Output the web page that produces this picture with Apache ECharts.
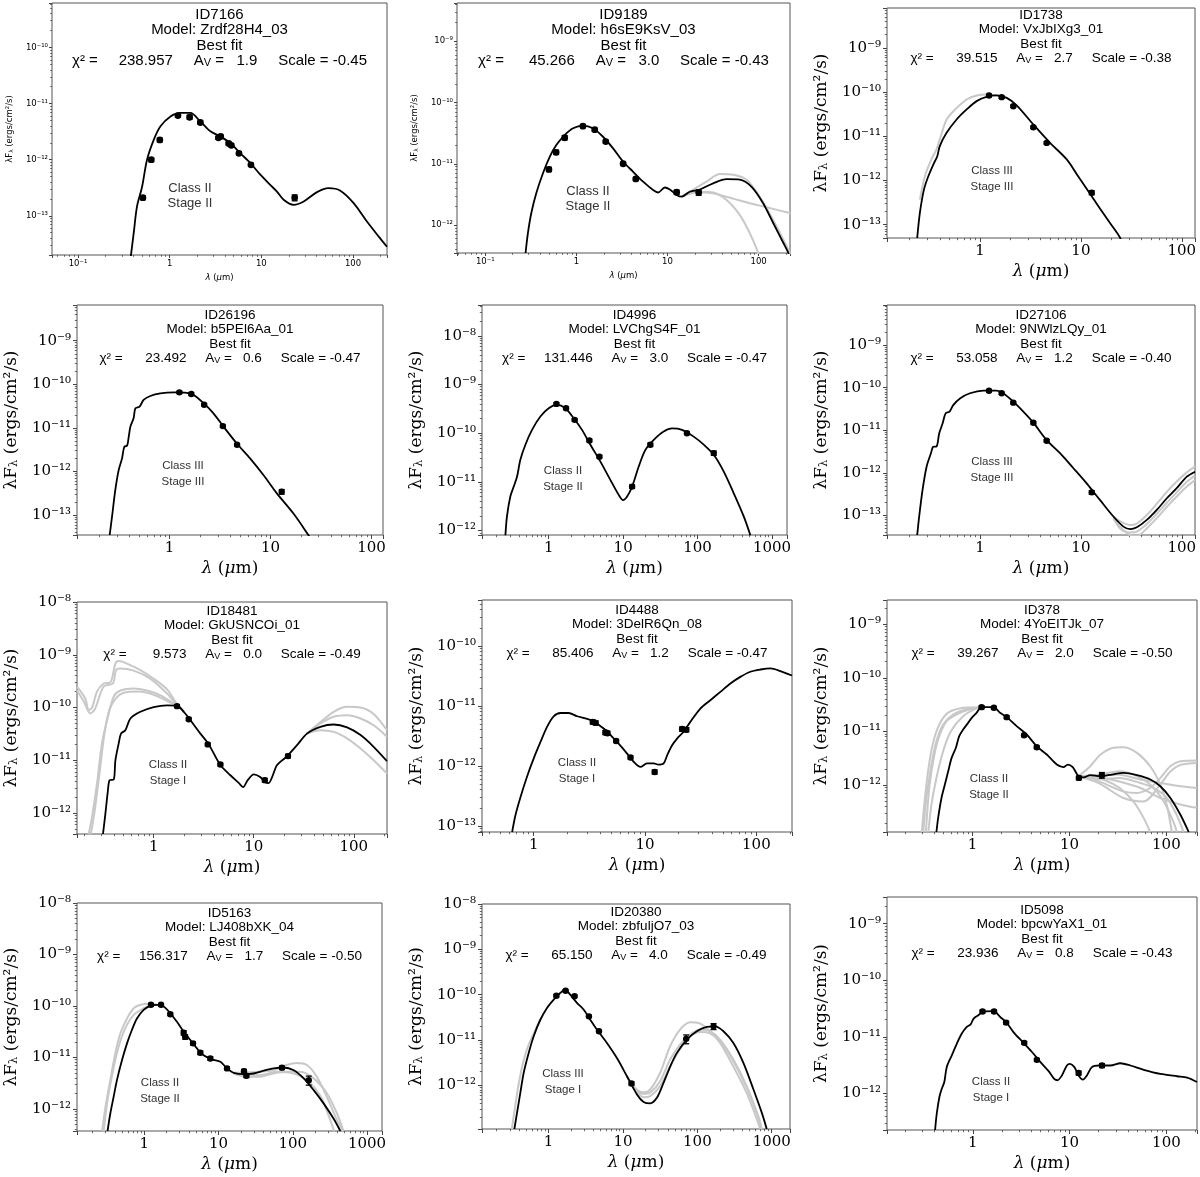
<!DOCTYPE html>
<html>
<head>
<meta charset="utf-8">
<script src="https://cdn.jsdelivr.net/npm/echarts@6/dist/echarts.min.js"></script>
<style>
  html, body { margin: 0; background: #fff; }
  #chart { width: 1200px; height: 1177px; }
</style>
</head>
<body>
<div id="chart"></div>
<script>
// ---- panel labels ----
const ids = ['ID7166', 'ID9189', 'ID1738', 'ID26196', 'ID4996', 'ID27106', 'ID18481', 'ID4488', 'ID378', 'ID5163', 'ID20380', 'ID5098'];
const models = ['Zrdf28H4_03', 'h6sE9KsV_03', 'VxJbIXg3_01', 'b5PEl6Aa_01', 'LVChgS4F_01', '9NWlzLQy_01', 'GkUSNCOi_01', '3DelR6Qn_08', '4YoEITJk_07', 'LJ408bXK_04', 'zbfuljO7_03', 'bpcwYaX1_01'];
const chi2 = ['238.957', '45.266', '39.515', '23.492', '131.446', '53.058', '9.573', '85.406', '39.267', '156.317', '65.150', '23.936'];
const avs = ['1.9', '3.0', '2.7', '0.6', '3.0', '1.2', '0.0', '1.2', '2.0', '1.7', '4.0', '0.8'];
const scales = ['-0.45', '-0.43', '-0.38', '-0.47', '-0.47', '-0.40', '-0.49', '-0.47', '-0.50', '-0.50', '-0.49', '-0.43'];
const classes = ['Class II', 'Class II', 'Class III', 'Class III', 'Class II', 'Class III', 'Class II', 'Class II', 'Class II', 'Class II', 'Class III', 'Class II'];
const stages = ['Stage II', 'Stage II', 'Stage III', 'Stage III', 'Stage II', 'Stage III', 'Stage I', 'Stage I', 'Stage II', 'Stage II', 'Stage I', 'Stage I'];

// ---- axis ranges (micron, erg/cm2/s) ----
const xMin = [0.052, 0.049, 0.12, 0.121, 0.127, 0.12, 0.171, 0.343, 0.131, 0.124, 0.127, 0.13];
const xMax = [235, 221, 135, 130, 1590, 135, 215, 209, 207, 1590, 1760, 207];
const yMin = [2.0e-14, 3.5e-13, 5e-14, 3.5e-14, 8.1e-13, 3.5e-14, 4e-13, 7.9e-14, 1.35e-13, 3.7e-13, 1.09e-13, 2.24e-13];
const yMax = [6.2e-10, 4.2e-9, 8e-9, 6.6e-9, 4.3e-8, 8.7e-9, 1e-8, 5.8e-10, 2.8e-9, 1e-8, 1e-8, 2.97e-9];

// ---- best fit models [lambda, lambda*F] ----
const fit1 = [[0.37,1.5e-14],[0.405,4.9e-14],[0.44,1.47e-13],[0.50,3.3e-13],[0.566,1.0e-12],[0.67,2.26e-12],[0.79,3.9e-12],[1.02,5.9e-12],[1.31,6.8e-12],[1.68,6.8e-12],[2.16,4.8e-12],[2.78,3.2e-12],[3.57,2.6e-12],[4.59,1.97e-12],[5.9,1.3e-12],[7.6,8.7e-13],[9.75,5.4e-13],[12.5,3.56e-13],[14.8,2.7e-13],[17.5,1.93e-13],[22.5,1.57e-13],[29,1.8e-13],[40.5,2.64e-13],[54,3.1e-13],[72.8,2.8e-13],[101.7,1.68e-13],[142,7.9e-14],[190,4.3e-14],[235,2.8e-14]];
const fit2 = [[0.277,3.5e-13],[0.294,7.4e-13],[0.32,1.56e-12],[0.363,3.3e-12],[0.43,7e-12],[0.51,1.3e-11],[0.6,2.0e-11],[0.745,2.94e-11],[0.92,3.8e-11],[1.18,4.2e-11],[1.52,3.8e-11],[1.96,2.76e-11],[2.53,1.78e-11],[3.26,1.08e-11],[4.2,7.4e-12],[5.4,5.1e-12],[6.95,3.74e-12],[7.9,3.4e-12],[9.35,4.1e-12],[10.6,3.8e-12],[12.6,3.1e-12],[14.3,2.9e-12],[17.6,3.5e-12],[22.6,3.8e-12],[31.7,4.8e-12],[44.5,5.6e-12],[62,5.5e-12],[83.7,4.2e-12],[112,2.27e-12],[145,1.07e-12],[187,5.1e-13],[212,3.5e-13],[230,2.4e-13]];
const fit3 = [[0.239,5e-14],[0.254,1.85e-13],[0.279,6.3e-13],[0.308,1.25e-12],[0.345,2.3e-12],[0.378,3.55e-12],[0.4,6e-12],[0.467,1.2e-11],[0.587,2.4e-11],[0.738,4.05e-11],[0.927,6.25e-11],[1.16,7.8e-11],[1.46,8.4e-11],[1.84,7.4e-11],[2.31,5e-11],[3.38,1.85e-11],[4.95,7.1e-12],[7.24,3e-12],[9.1,1.39e-12],[11.4,6.5e-13],[15.5,2.3e-13],[19.5,1.08e-13],[24.5,5e-14],[27,2.5e-14]];
const fit4 = [[0.255,3.5e-14],[0.269,9.2e-14],[0.29,3.8e-13],[0.313,1.08e-12],[0.338,2e-12],[0.356,3.7e-12],[0.379,3.9e-12],[0.394,6.3e-12],[0.409,1.07e-11],[0.44,1.66e-11],[0.458,2.8e-11],[0.505,3.1e-11],[0.553,4.4e-11],[0.644,5.4e-11],[0.81,6.2e-11],[1.1,6.55e-11],[1.48,6.4e-11],[1.73,5.7e-11],[2.17,3.7e-11],[2.72,2.16e-11],[3.42,1.07e-11],[4.63,4.4e-12],[6.27,2e-12],[8.5,8.3e-13],[11.5,3.2e-13],[16.8,1.1e-13],[23.7,3.5e-14],[26,2.5e-14]];
const fit5 = [[0.262,8e-13],[0.275,1.95e-12],[0.305,5e-12],[0.339,8e-12],[0.376,1.29e-11],[0.416,2.84e-11],[0.486,5.8e-11],[0.597,1.17e-10],[0.773,2.2e-10],[1,3.26e-10],[1.29,3.8e-10],[1.67,3.26e-10],[2.17,2.03e-10],[2.8,1.17e-10],[3.63,5.8e-11],[4.95,2.6e-11],[6.73,1.1e-11],[8.71,5.4e-12],[9.97,4.2e-12],[11.3,5e-12],[13.2,8e-12],[16.2,2.07e-11],[19.9,4.55e-11],[25.8,7.3e-11],[35,1.08e-10],[45.4,1.25e-10],[61.8,1.17e-10],[88.7,8.5e-11],[121,5.8e-11],[165,3.6e-11],[224,1.64e-11],[305,5.9e-12],[417,1.95e-12],[512,8e-13]];
const fit6 = [[0.239,3.5e-14],[0.25,9.5e-14],[0.27,4e-13],[0.296,1.4e-12],[0.327,2.9e-12],[0.344,4.1e-12],[0.372,4.2e-12],[0.395,8.5e-12],[0.427,1.46e-11],[0.457,2.5e-11],[0.5,2.75e-11],[0.544,3.9e-11],[0.634,5.6e-11],[0.796,7.4e-11],[1.08,8.5e-11],[1.46,8.5e-11],[1.7,7.4e-11],[2.14,4.7e-11],[2.69,2.74e-11],[3.38,1.51e-11],[4.58,5.9e-12],[6.21,2.9e-12],[8.43,1.29e-12],[11.4,5.7e-13],[15.5,2.3e-13],[21,9.5e-14],[26.4,5.5e-14],[30.7,4.8e-14],[35.8,5.3e-14],[45,7.9e-14],[56.5,1.36e-13],[71,2.55e-13],[89,4.4e-13],[112,8.2e-13],[135,1.07e-12]];
const fit7 = [[0.311,4e-13],[0.329,9.8e-13],[0.347,2.5e-12],[0.363,4.2e-12],[0.398,4.3e-12],[0.414,1e-11],[0.447,2.1e-11],[0.471,3.2e-11],[0.52,3.7e-11],[0.585,6.2e-11],[0.736,8.3e-11],[1.0,1.02e-10],[1.36,1.1e-10],[1.71,1.08e-10],[2.0,8.3e-11],[2.33,5.75e-11],[2.93,3.2e-11],[3.55,2e-11],[4.64,8.1e-12],[5.84,5.2e-12],[7.08,3.73e-12],[7.82,3.1e-12],[8.71,4.2e-12],[10,5.4e-12],[11.5,4.85e-12],[13.1,3.8e-12],[14.1,3.7e-12],[15.3,4.85e-12],[17.1,8.1e-12],[21.5,1.19e-11],[27.1,1.93e-11],[34.1,3.2e-11],[46.4,4.3e-11],[63,4.76e-11],[85.8,4.2e-11],[117,3e-11],[158,1.8e-11],[215,9.6e-12]];
const fit8 = [[0.64,7.9e-14],[0.685,1.5e-13],[0.76,3e-13],[0.87,6.6e-13],[1,1.33e-12],[1.15,2.5e-12],[1.32,4.5e-12],[1.51,6.7e-12],[1.74,7.6e-12],[2.06,7.6e-12],[2.45,6.7e-12],[3.23,5.8e-12],[4.25,4.2e-12],[5.6,2.5e-12],[6.9,1.6e-12],[7.9,1.17e-12],[9.1,9.6e-13],[10.4,1.1e-12],[12,1.1e-12],[13.2,1.05e-12],[14.7,1.1e-12],[15.8,1.5e-12],[17.5,2.2e-12],[19.4,2.85e-12],[22.2,3.7e-12],[25.5,5.4e-12],[31.4,9e-12],[38.6,1.24e-11],[47.5,1.71e-11],[58.4,2.36e-11],[71.8,3.04e-11],[88.3,3.7e-11],[109,4.03e-11],[134,4.2e-11],[164,3.8e-11],[209,3.2e-11]];
const fit9 = [[0.424,1.35e-13],[0.442,2.5e-13],[0.478,5.8e-13],[0.518,1.03e-12],[0.56,1.8e-12],[0.607,3.2e-12],[0.673,5e-12],[0.728,8.2e-12],[0.8,1.09e-11],[0.9,1.45e-11],[0.98,1.8e-11],[1.1,2.23e-11],[1.24,2.84e-11],[1.64,2.84e-11],[1.92,2.23e-11],[2.25,1.85e-11],[2.85,1.26e-11],[3.62,8.8e-12],[4.6,5.3e-12],[5.83,3.73e-12],[7.4,2.43e-12],[8.67,2.17e-12],[9.6,2.43e-12],[10.8,2.17e-12],[12.4,1.47e-12],[14,1.4e-12],[16.4,1.54e-12],[20.8,1.47e-12],[27.4,1.58e-12],[36.2,1.7e-12],[49.7,1.54e-12],[68.3,1.28e-12],[86.6,9.6e-13],[110,5.8e-13],[140,2.8e-13],[170,1.35e-13]];
const fit10 = [[0.32,3.7e-13],[0.348,8e-13],[0.386,1.7e-12],[0.428,3.6e-12],[0.5,8.8e-12],[0.585,1.87e-11],[0.68,3.4e-11],[0.796,5.7e-11],[0.98,8.35e-11],[1.2,1e-10],[1.48,1.05e-10],[1.82,9.7e-11],[2.24,7.2e-11],[2.75,4.9e-11],[3.39,3.16e-11],[4.17,2.17e-11],[5.12,1.49e-11],[6.3,1.1e-11],[8.2,9.1e-12],[10.6,8.2e-12],[13,6.1e-12],[16,5e-12],[21.8,4.7e-12],[29.7,4.85e-12],[40.5,5.5e-12],[55.3,6.1e-12],[75.4,6.35e-12],[103,5.6e-12],[140,3.9e-12],[191,2.3e-12],[261,1.26e-12],[355,6.4e-13],[437,3.7e-13]];
const fit11 = [[0.346,1.09e-13],[0.376,2.5e-13],[0.416,6.8e-13],[0.462,1.9e-12],[0.539,5.2e-12],[0.628,1.2e-11],[0.773,2.8e-11],[0.95,5.1e-11],[1.17,7.8e-11],[1.43,1.09e-10],[1.67,1.29e-10],[1.95,1e-10],[2.4,6.6e-11],[2.95,4.7e-11],[3.63,2.8e-11],[4.46,1.7e-11],[6.08,8.6e-12],[8.28,4e-12],[11.3,1.59e-12],[15.4,6.3e-13],[18.9,4.3e-13],[23.2,4e-13],[28.5,5.3e-13],[35,1.13e-12],[43.1,2.6e-12],[53,5.2e-12],[72.2,1.02e-11],[98.4,1.56e-11],[134,1.94e-11],[173,2e-11],[224,1.56e-11],[305,8.6e-12],[417,3.1e-12],[568,8.1e-13],[734,2.5e-13],[857,1.09e-13]];
const fit12 = [[0.408,2.24e-13],[0.424,4.3e-13],[0.452,8.6e-13],[0.478,1.2e-12],[0.508,1.58e-12],[0.538,2.9e-12],[0.607,4.7e-12],[0.683,7.5e-12],[0.77,1.14e-11],[0.867,1.49e-11],[0.95,1.66e-11],[1.02,2.1e-11],[1.14,2.4e-11],[1.29,2.8e-11],[1.64,2.83e-11],[1.92,2.24e-11],[2.25,1.75e-11],[2.63,1.21e-11],[3.34,7.8e-12],[4.24,5e-12],[4.97,3.6e-12],[6.07,2.47e-12],[6.94,1.8e-12],[7.5,1.7e-12],[8.33,2.07e-12],[9.38,3.1e-12],[10.1,3.3e-12],[11.2,2.9e-12],[12.4,2.07e-12],[13.7,1.74e-12],[15.1,2.07e-12],[17,2.9e-12],[20,3.1e-12],[26.4,3.1e-12],[33.4,3.4e-12],[42.4,3.1e-12],[58.3,2.6e-12],[86.7,2.2e-12],[129,2e-12],[164,1.9e-12],[207,1.58e-12]];

// ---- other good fits (grey) ----
const grey2a = [[14.3,2.9e-12],[17.6,3.5e-12],[26.8,5.1e-12],[37.6,6.8e-12],[52.7,6.6e-12],[73.8,5.5e-12],[103,2.9e-12],[145,1.2e-12],[203,4.5e-13],[230,3e-13]];
const grey2b = [[14.3,2.9e-12],[17.6,3.4e-12],[26.8,3.4e-12],[37.6,3.1e-12],[52.7,2.7e-12],[80,2.27e-12],[122,1.95e-12],[225,1.56e-12]];
const grey2c = [[14.3,2.9e-12],[22.6,3.5e-12],[31.7,3.4e-12],[44.5,2.57e-12],[62,1.47e-12],[80,7.4e-13],[99,3.5e-13],[110,2e-13]];
const grey3 = [[0.254,3.7e-13],[0.285,1.25e-12],[0.33,3e-12],[0.37,5e-12],[0.4,8.5e-12],[0.467,2.4e-11],[0.565,4e-11],[0.738,6.8e-11],[0.93,8.4e-11],[1.16,8.8e-11],[1.46,8.4e-11],[1.84,7.4e-11]];
const grey6a = [[21,8.5e-14],[24.5,5.4e-14],[30.7,3.5e-14],[35.8,3.3e-14],[45,5e-14],[56.5,8.7e-14],[71,1.6e-13],[89,2.8e-13],[112,4.8e-13],[135,6.8e-13]];
const grey6b = [[21,9.5e-14],[24.5,7.3e-14],[30.7,6e-14],[35.8,6.5e-14],[45,1.03e-13],[56.5,1.9e-13],[71,3.6e-13],[89,6.3e-13],[112,1.03e-12],[135,1.4e-12]];
const grey6c = [[21,9e-14],[24.5,5e-14],[30.7,4e-14],[35.8,4.2e-14],[45,6.3e-14],[56.5,1.1e-13],[71,2e-13],[89,3.5e-13],[112,6.2e-13],[135,8.5e-13]];
const grey7a = [[0.171,2.5e-10],[0.207,1.48e-10],[0.224,8.9e-11],[0.242,1e-10],[0.271,2e-10],[0.316,2.85e-10],[0.369,3e-10],[0.414,6.8e-10],[0.447,7.6e-10],[0.54,6.8e-10],[0.736,5.1e-10],[1.0,3.5e-10],[1.36,2.2e-10],[1.71,1.15e-10],[2.0,8.3e-11]];
const grey7b = [[0.171,2.1e-10],[0.2,1.3e-10],[0.233,7.7e-11],[0.26,9.6e-11],[0.316,2.5e-10],[0.39,2.85e-10],[0.42,5.1e-10],[0.46,5.5e-10],[0.63,5e-10],[0.93,3.5e-10],[1.36,1.84e-10],[1.71,1.12e-10],[2.0,8.3e-11]];
const grey7c = [[0.224,4e-13],[0.242,8.5e-13],[0.271,3.6e-12],[0.304,2.1e-11],[0.342,5.75e-11],[0.398,1.6e-10],[0.464,2.1e-10],[0.63,2.3e-10],[0.858,2.1e-10],[1.17,1.7e-10],[1.58,1.2e-10],[1.71,1.1e-10],[2.0,8.3e-11]];
const grey7d = [[0.235,4e-13],[0.255,1e-12],[0.285,5e-12],[0.32,3e-11],[0.36,9e-11],[0.42,1.5e-10],[0.5,1.9e-10],[0.7,2.0e-10],[1.0,1.75e-10],[1.4,1.3e-10],[1.71,1.1e-10]];
const grey7e = [[34.1,3.2e-11],[46.4,5.3e-11],[63,8.3e-11],[85.8,1.03e-10],[117,1e-10],[158,7.5e-11],[215,3.7e-11]];
const grey7f = [[34.1,3.2e-11],[46.4,5e-11],[63,6.7e-11],[85.8,7.15e-11],[117,6.2e-11],[158,4.6e-11],[215,2.8e-11]];
const grey7g = [[34.1,3.2e-11],[46.4,3.7e-11],[63,3.45e-11],[85.8,2.6e-11],[117,1.67e-11],[158,1e-11],[215,5.6e-12]];
const grey9a = [[0.31,1.35e-13],[0.334,5.8e-13],[0.376,2.4e-12],[0.424,6.6e-12],[0.497,1.35e-11],[0.63,2.07e-11],[0.87,2.6e-11],[1.24,2.84e-11]];
const grey9b = [[0.35,1.35e-13],[0.376,4.3e-13],[0.424,1.37e-12],[0.497,4.3e-12],[0.6,1.02e-11],[0.8,1.93e-11],[1.1,2.7e-11],[1.24,2.84e-11]];
const grey9c = [[0.33,1.35e-13],[0.36,1e-12],[0.41,4.3e-12],[0.46,8.8e-12],[0.54,1.56e-11],[0.68,2.07e-11],[0.94,2.6e-11],[1.24,2.84e-11]];
const grey9d = [[0.3,1.35e-13],[0.32,5e-13],[0.35,2e-12],[0.39,6e-12],[0.45,1.3e-11],[0.55,2.2e-11],[0.75,2.7e-11],[1.0,2.8e-11],[1.24,2.84e-11]];
const grey9e = [[12.4,1.47e-12],[16.4,2.26e-12],[20.8,3.7e-12],[28.5,5e-12],[36,5.1e-12],[49.7,4e-12],[68,2.26e-12],[86.6,1.03e-12],[101,4.3e-13],[114,1.35e-13]];
const grey9f = [[12.4,1.47e-12],[16.4,1.37e-12],[24.2,1.03e-12],[36,7.7e-13],[49.7,7.2e-13],[68,8.9e-13],[86.6,1.37e-12],[110,2.26e-12],[140,2.8e-12],[207,2.9e-12]];
const grey9g = [[12.4,1.47e-12],[20,1.1e-12],[36,5.8e-13],[58,5e-13],[86.6,1.03e-12],[110,1.8e-12],[140,2.4e-12],[207,2.6e-12]];
const grey9h = [[12.4,1.47e-12],[16.4,1.47e-12],[24.2,1.2e-12],[33,8.9e-13],[45.6,5e-13],[58,2.5e-13],[68,1.35e-13]];
const grey9i = [[12.4,1.47e-12],[20.8,1.3e-12],[33,1.37e-12],[54,1.1e-12],[74,8.9e-13],[101,5.8e-13],[128,2.8e-13],[150,1.35e-13]];
const grey9j = [[12.4,1.47e-12],[20.8,1.58e-12],[33,1.83e-12],[46,1.58e-12],[68,1.03e-12],[94,5e-13],[118,2.1e-13],[128,1.35e-13]];
const grey9k = [[12.4,1.47e-12],[20.8,1.5e-12],[31,1.58e-12],[54,1.28e-12],[86.6,1.1e-12],[140,9.6e-13],[207,8.9e-13]];
const grey9l = [[12.4,1.47e-12],[20.8,1.4e-12],[31,1.2e-12],[54,8.9e-13],[86.6,5.8e-13],[140,4.4e-13],[207,3.8e-13]];
const grey10a = [[0.27,3.7e-13],[0.3,1.09e-12],[0.348,3.6e-12],[0.407,1.2e-11],[0.475,2.9e-11],[0.585,5.7e-11],[0.72,9e-11],[0.89,1.05e-10],[1.2,1.1e-10],[1.48,1.07e-10]];
const grey10b = [[0.284,3.7e-13],[0.32,1.5e-12],[0.38,5.6e-12],[0.45,1.6e-11],[0.555,3.7e-11],[0.72,6.7e-11],[0.98,9e-11],[1.2,1.0e-10]];
const grey10c = [[16,5e-12],[30,5.2e-12],[55,5.6e-12],[82,7.1e-12],[113,7.8e-12],[155,7.1e-12],[211,4.2e-12],[288,1.7e-12],[394,6e-13],[480,3.7e-13]];
const grey10d = [[16,4.85e-12],[24,4.2e-12],[36,4.2e-12],[55,4.85e-12],[82,5.25e-12],[126,5.25e-12],[191,3.9e-12],[288,2e-12],[394,8.1e-13],[480,3.7e-13]];
const grey10e = [[16,5e-12],[36,4.5e-12],[61,5.25e-12],[103,4.85e-12],[155,3.6e-12],[240,1.7e-12],[320,6e-13],[360,3.7e-13]];
const grey11a = [[11.3,1.59e-12],[15.4,8e-13],[19,7e-13],[23.2,8.1e-13],[31.6,1.9e-12],[43,7.3e-12],[58.5,1.7e-11],[80,2.46e-11],[109,2.3e-11],[148,1.56e-11],[202,8.6e-12],[305,2.6e-12],[460,6.8e-13],[630,1.8e-13],[700,1.09e-13]];
const grey11b = [[11.3,1.59e-12],[15.4,7.5e-13],[19,6.5e-13],[23.2,6.9e-13],[31.6,1.24e-12],[43,3.7e-12],[58.5,7.9e-12],[80,1.32e-11],[109,1.7e-11],[148,1.56e-11],[202,1.02e-11],[305,3.7e-12],[460,9.6e-13],[680,1.8e-13],[730,1.09e-13]];
const grey11c = [[11.3,1.59e-12],[15.4,7e-13],[19,5.5e-13],[23.2,5.8e-13],[31.6,9.6e-13],[43,2.6e-12],[58.5,6.3e-12],[80,1.2e-11],[109,1.5e-11],[148,1.4e-11],[202,9.4e-12],[305,3.4e-12],[460,8.9e-13],[650,2.1e-13],[720,1.09e-13]];
const grey11d = [[0.32,1.09e-13],[0.35,3e-13],[0.4,1.2e-12],[0.46,3.5e-12],[0.54,8e-12],[0.63,1.4e-11],[0.77,2.9e-11]];

// ---- photometry [lambda, lambda*F, fractional error] ----
const obs1 = [[0.51,2.1e-13,0.08],[0.63,1.0e-12,0.08],[0.78,2.25e-12,0.08],[1.23,6.1e-12,0.06],[1.65,5.7e-12,0.08],[2.16,4.6e-12,0.06],[3.4,2.45e-12,0.06],[3.6,2.6e-12,0.06],[4.4,1.95e-12,0.06],[4.7,1.8e-12,0.06],[5.7,1.3e-12,0.06],[7.7,8.1e-13,0.06],[23.1,2.1e-13,0.12]];
const obs2 = [[0.5,8.1e-12,0.08],[0.6,1.54e-11,0.08],[0.745,2.66e-11,0.08],[1.18,4.1e-11,0.06],[1.59,3.6e-11,0.06],[2.1,2.3e-11,0.06],[3.26,1.0e-11,0.06],[4.49,5.65e-12,0.06],[12.6,3.43e-12,0.08],[22,3.4e-12,0.1]];
const obs3 = [[1.23,8.4e-11,0.06],[1.64,7.7e-11,0.06],[2.14,4.8e-11,0.06],[3.38,1.6e-11,0.06],[4.58,7.1e-12,0.06],[12.8,5.3e-13,0.1]];
const obs4 = [[1.25,6.55e-11,0.06],[1.64,6e-11,0.06],[2.2,3.4e-11,0.06],[3.37,1.1e-11,0.06],[4.66,4.1e-12,0.06],[12.9,3.44e-13,0.12]];
const obs5 = [[1.27,4e-10,0.06],[1.71,3.26e-10,0.06],[2.23,1.88e-10,0.06],[3.52,7.1e-11,0.06],[4.8,3.3e-11,0.06],[13.2,8e-12,0.08],[23.2,5.8e-11,0.08],[72,1e-10,0.06],[165,3.9e-11,0.1]];
const obs6 = [[1.23,8.5e-11,0.06],[1.64,7.4e-11,0.06],[2.14,4.45e-11,0.06],[3.38,1.5e-11,0.06],[4.58,5.7e-12,0.06],[12.8,3.5e-13,0.1]];
const obs7 = [[1.71,1.06e-10,0.06],[2.24,6e-11,0.06],[3.47,2e-11,0.06],[4.64,8.3e-12,0.06],[12.9,4.2e-12,0.08],[22,1.2e-11,0.08]];
const obs8 = [[3.39,5.4e-12,0.08],[3.6,5.2e-12,0.08],[4.4,3.6e-12,0.08],[4.6,3.5e-12,0.08],[5.5,2.6e-12,0.06],[7.4,1.38e-12,0.06],[12.2,7.9e-13,0.08],[21.5,4.1e-12,0.08],[23.5,4.0e-12,0.08]];
const obs9 = [[1.24,2.84e-11,0.06],[1.66,2.76e-11,0.06],[2.25,1.85e-11,0.06],[3.4,8.5e-12,0.06],[4.6,5.1e-12,0.06],[12.5,1.37e-12,0.08],[21.6,1.54e-12,0.12]];
const obs10 = [[1.23,1.05e-10,0.06],[1.68,1.05e-10,0.06],[2.24,6.9e-11,0.06],[3.39,3e-11,0.1],[3.55,2.5e-11,0.1],[4.53,1.87e-11,0.08],[5.68,1.23e-11,0.08],[7.75,9.5e-12,0.08],[13,6.1e-12,0.06],[22,5.4e-12,0.08],[23.7,4.4e-12,0.08],[71.5,6.3e-12,0.08],[164,3.6e-12,0.2]];
const obs11 = [[1.27,9.5e-11,0.06],[1.69,1.22e-10,0.06],[2.23,9.2e-11,0.06],[3.48,3.33e-11,0.06],[4.75,1.56e-11,0.06],[13,1.1e-12,0.08],[70.7,1.06e-11,0.22],[165,2e-11,0.15]];
const obs12 = [[1.26,2.8e-11,0.06],[1.66,2.8e-11,0.06],[2.21,1.78e-11,0.06],[3.4,7.8e-12,0.06],[4.59,3.9e-12,0.06],[12.4,2.28e-12,0.08],[21.6,3.1e-12,0.08]];

const fits = [fit1, fit2, fit3, fit4, fit5, fit6, fit7, fit8, fit9, fit10, fit11, fit12];
const greys = [[], [grey2a, grey2b, grey2c], [grey3], [], [], [grey6a, grey6b, grey6c],
  [grey7a, grey7b, grey7c, grey7d, grey7e, grey7f, grey7g], [],
  [grey9a, grey9b, grey9c, grey9d, grey9e, grey9f, grey9g, grey9h, grey9i, grey9j, grey9k, grey9l],
  [grey10a, grey10b, grey10c, grey10d, grey10e], [grey11a, grey11b, grey11c, grey11d], []];
const obs = [obs1, obs2, obs3, obs4, obs5, obs6, obs7, obs8, obs9, obs10, obs11, obs12];

// ---- layout (pixels): plot boxes [left, top, right, bottom] ----
const boxes = [
  [52, 3, 387, 255], [457, 3, 790, 253], [887, 8, 1195, 238],
  [77, 305, 383, 535], [482, 305, 787, 535], [887, 305, 1195, 535],
  [77, 602, 387, 834], [482, 600, 792, 832], [887, 600, 1197, 832],
  [77, 903, 382, 1131], [482, 904, 790, 1129], [887, 897, 1197, 1130]
];
const titleY = [15, 15, 15, 315, 315, 315, 611, 610, 610, 913, 912, 910];
const classXY = [[190, 188], [588, 191], [992, 171], [183, 466], [563, 471], [992, 462],
  [168, 765], [577, 763], [989, 779], [160, 1083], [563, 1074], [991, 1082]];

const SUP = { '-': '⁻', '0': '⁰', '1': '¹', '2': '²', '3': '³', '4': '⁴', '5': '⁵', '6': '⁶', '7': '⁷', '8': '⁸', '9': '⁹' };
const sup = (n) => String(n).split('').map((c) => SUP[c]).join('');
function powLabel(v, plain) {
  const l = Math.log10(v);
  const e = Math.round(l);
  if (Math.abs(l - e) > 1e-6) return '';
  if (plain && e >= 0) return String(Math.round(Math.pow(10, e)));
  return '10' + sup(e);
}
const pad = (s, n) => String(s).padStart(n, ' ');

const SANS = '"Liberation Sans", Arial, sans-serif';
const grid = [], xAxis = [], yAxis = [], series = [], elements = [];

boxes.forEach((b, i) => {
  const small = i < 2;
  const family = small ? 'DejaVu Sans' : 'DejaVu Serif';
  const tickSize = small ? 8.5 : 15;
  const nameSize = small ? 8.5 : 17;
  grid.push({
    left: b[0], top: b[1], width: b[2] - b[0], height: b[3] - b[1],
    show: true, borderColor: '#555', borderWidth: 1, backgroundColor: 'transparent'
  });
  const common = {
    gridIndex: i, type: 'log', logBase: 10,
    splitLine: { show: false },
    axisLine: { show: false, onZero: false },
    axisTick: { show: true, length: small ? 3 : 4, lineStyle: { color: '#444', width: 1 } },
    minorTick: { show: true, splitNumber: 9, length: small ? 1.8 : 2.2, lineStyle: { color: '#444', width: 0.8 } },
    minorSplitLine: { show: false },
    nameLocation: 'middle'
  };
  xAxis.push({
    ...common,
    min: xMin[i], max: xMax[i],
    axisLabel: { fontFamily: family, fontSize: tickSize, color: '#000', margin: small ? 4 : 6, formatter: (v) => powLabel(v, true) },
    name: '{i|λ}{m| (}{i|μ}{m|m)}',
    nameGap: small ? 18 : 25,
    nameTextStyle: {
      rich: {
        i: { fontFamily: family, fontSize: nameSize, fontStyle: 'italic', color: '#000' },
        m: { fontFamily: family, fontSize: nameSize, color: '#000' }
      }
    }
  });
  yAxis.push({
    ...common,
    min: yMin[i], max: yMax[i],
    axisLabel: { fontFamily: family, fontSize: tickSize, color: '#000', margin: small ? 4 : 6, formatter: (v) => powLabel(v, false) },
    name: '{m|λF}{s|λ}{m| (ergs/cm²/s)}',
    nameRotate: 90,
    nameGap: small ? 38 : 57,
    nameTextStyle: {
      rich: {
        m: { fontFamily: family, fontSize: nameSize, color: '#000' },
        s: { fontFamily: family, fontSize: nameSize * 0.68, color: '#000', verticalAlign: 'bottom' }
      }
    }
  });

  greys[i].forEach((g) => {
    series.push({
      type: 'line', xAxisIndex: i, yAxisIndex: i, data: g, showSymbol: false, smooth: 0.3,
      lineStyle: { color: '#c8c8c8', width: 2 }, silent: true, z: 1
    });
  });
  series.push({
    type: 'line', xAxisIndex: i, yAxisIndex: i, data: fits[i], showSymbol: false, smooth: 0.3,
    lineStyle: { color: '#000', width: 1.8 }, silent: true, z: 3
  });
  series.push({
    type: 'custom', xAxisIndex: i, yAxisIndex: i, silent: true, z: 5,
    data: obs[i].map((o) => [o[0], o[1], o[1] * (1 - o[2]), o[1] * (1 + o[2])]),
    encode: { x: 0, y: 1 },
    renderItem: (params, api) => {
      const c = api.coord([api.value(0), api.value(1)]);
      const lo = api.coord([api.value(0), api.value(2)]);
      const hi = api.coord([api.value(0), api.value(3)]);
      const w = 3, st = { stroke: '#000', lineWidth: 1.3 };
      return {
        type: 'group', children: [
          { type: 'line', shape: { x1: c[0], y1: lo[1], x2: c[0], y2: hi[1] }, style: st },
          { type: 'line', shape: { x1: c[0] - w, y1: lo[1], x2: c[0] + w, y2: lo[1] }, style: st },
          { type: 'line', shape: { x1: c[0] - w, y1: hi[1], x2: c[0] + w, y2: hi[1] }, style: st },
          { type: 'circle', shape: { cx: c[0], cy: c[1], r: small ? 3.4 : 3.2 }, style: { fill: '#000' } }
        ]
      };
    }
  });

  // annotations
  const cx = (b[0] + b[2]) / 2;
  const fs = small ? 15 : 13.5;
  const step = small ? 15.3 : 14.4;
  const font = `${fs}px ${SANS}`;
  const line = (y, text) => ({
    type: 'text', x: cx, y, silent: true,
    style: { text, font, fill: '#000', align: 'center', verticalAlign: 'middle' }
  });
  elements.push(line(titleY[i], ids[i]));
  elements.push(line(titleY[i] + step, 'Model: ' + models[i]));
  elements.push(line(titleY[i] + 2 * step, 'Best fit'));
  elements.push({
    type: 'text', x: cx, y: titleY[i] + 3 * step, silent: true,
    style: {
      text: `{n|χ² = ${pad(chi2[i], 11)}     A}{s|V}{n| = ${pad(avs[i], 5)}     Scale = ${scales[i]}}`,
      align: 'center', verticalAlign: 'middle',
      rich: {
        n: { font, fill: '#000' },
        s: { font: `${Math.round(fs * 0.7)}px ${SANS}`, fill: '#000', verticalAlign: 'bottom' }
      }
    }
  });
  const cfont = `${small ? 13 : 11.5}px ${SANS}`;
  elements.push({
    type: 'text', x: classXY[i][0], y: classXY[i][1], silent: true,
    style: { text: classes[i], font: cfont, fill: '#333', align: 'center', verticalAlign: 'middle' }
  });
  elements.push({
    type: 'text', x: classXY[i][0], y: classXY[i][1] + 15.5, silent: true,
    style: { text: stages[i], font: cfont, fill: '#333', align: 'center', verticalAlign: 'middle' }
  });
});

const chart = echarts.init(document.getElementById('chart'));
chart.setOption({
  animation: false,
  backgroundColor: '#fff',
  grid, xAxis, yAxis, series,
  graphic: { elements }
});
</script>
</body>
</html>
